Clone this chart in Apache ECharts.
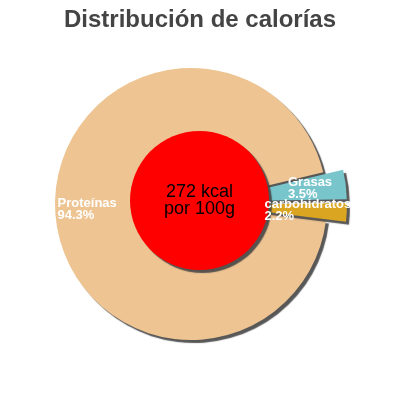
<!DOCTYPE html>
<html lang="es">
<head>
    <meta charset="UTF-8">
    <title>Distribución de calorías</title>
    <style>
        html, body { margin: 0; padding: 0; background: #fff; }
    </style>
</head>
<body>
<div class="main" style="width: 400px;height:400px;"></div>
<script src="https://cdn.jsdelivr.net/npm/echarts@6/dist/echarts.min.js"></script>
<script>
    // datos
    var nutrientes = ['Proteínas', 'Grasas', 'carbohidratos'];
    var porcentajes = [94.3, 3.5, 2.2];
    var colores = ['#EDC492', '#78C5CC', '#DAA520'];
    var separados = [false, true, true];
    var kcal = [272];

    // radio interior del anillo que sitúa cada etiqueta
    var radioEtiqueta = [66, 58, 52];

    var main = document.getElementsByClassName('main')[0];
    var myChart = echarts.init(main);

    var fuente = '"Liberation Sans", Arial, sans-serif';
    var sombra = {
        shadowColor: 'rgba(70,70,70,0.9)',
        shadowBlur: 1,
        shadowOffsetX: 3,
        shadowOffsetY: 3
    };

    var trozos = nutrientes.map(function (n, i) {
        return {
            name: n,
            value: porcentajes[i],
            selected: separados[i],
            itemStyle: { color: colores[i] }
        };
    });

    // serie transparente, una por cada etiqueta, para que no se oculten
    function serieEtiqueta(k) {
        return {
            type: 'pie',
            center: [191, 204],
            radius: [radioEtiqueta[k], 136],
            startAngle: -7,
            selectedMode: 'multiple',
            selectedOffset: 20,
            avoidLabelOverlap: false,
            minShowLabelAngle: 0,
            labelLayout: { hideOverlap: false },
            silent: true,
            emphasis: { disabled: true },
            itemStyle: { color: 'rgba(0,0,0,0)' },
            label: {
                show: true,
                position: 'inside',
                overflow: 'none',
                formatter: function (p) { return '{a|' + p.name + '}\n{a|' + p.value + '%}'; },
                rich: {
                    a: {
                        align: 'left', color: '#fff', fontFamily: fuente,
                        fontSize: 13, fontWeight: 'bold', lineHeight: 12
                    }
                }
            },
            labelLine: { show: false },
            data: nutrientes.map(function (n, i) {
                return {
                    name: n,
                    value: porcentajes[i],
                    selected: separados[i],
                    label: { show: i === k }
                };
            })
        };
    }

    var series = [
        {
            type: 'pie',
            center: [191, 204],
            radius: [0, 136],
            startAngle: -7,
            selectedMode: 'multiple',
            selectedOffset: 20,
            emphasis: { disabled: true },
            silent: true,
            label: { show: false },
            labelLine: { show: false },
            itemStyle: sombra,
            data: trozos
        },
        {
            type: 'pie',
            center: [199.5, 200.5],
            radius: [0, 69.5],
            silent: true,
            emphasis: { disabled: true },
            itemStyle: Object.assign({ color: '#FF0000' }, sombra),
            label: {
                show: true,
                position: 'center',
                formatter: function (p) { return p.value + ' kcal\npor 100g'; },
                fontFamily: fuente,
                fontSize: 18,
                lineHeight: 17,
                color: '#000'
            },
            labelLine: { show: false },
            data: [{ name: 'kcal', value: kcal[0] }]
        }
    ];
    nutrientes.forEach(function (n, k) {
        series.push(serieEtiqueta(k));
    });

    var option = {
        animation: false,
        title: {
            text: 'Distribución de calorías',
            left: 'center',
            top: 3,
            textStyle: { fontFamily: fuente, fontSize: 24, fontWeight: 'bold', color: '#444' }
        },
        series: series
    };

    myChart.setOption(option);
</script>
</body>
</html>
